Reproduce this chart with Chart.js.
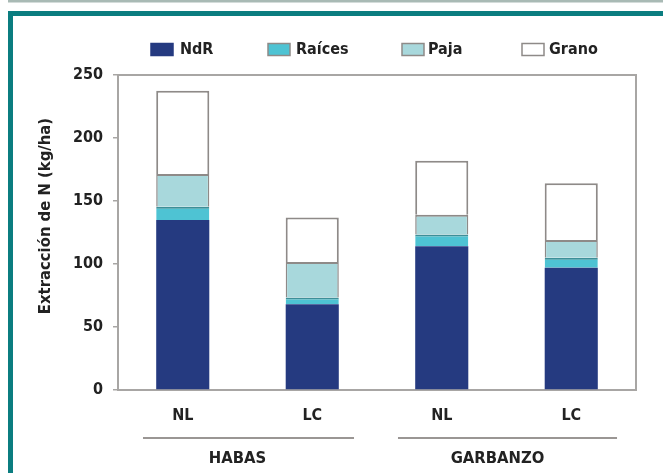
<!DOCTYPE html>
<html><head><meta charset="utf-8">
<script src="https://cdn.jsdelivr.net/npm/chart.js@4.4.0/dist/chart.umd.min.js"></script>
<style>html,body{margin:0;padding:0;background:#fff;}#wrap{width:663px;height:473px;position:relative;}</style>
</head><body><div id="wrap"><canvas id="c" width="663" height="473"></canvas></div>
<script>
const categories = ['NL', 'LC', 'NL', 'LC'];
const groups = ['HABAS', 'GARBANZO'];
const seriesNames = ['NdR', 'Raíces', 'Paja', 'Grano'];
const ndr = [135, 68, 114, 97];
const raices = [10.5, 5.5, 9.5, 8];
const paja = [26, 28, 15.5, 14];
const grano = [66, 35.5, 43, 45];
const yTicks = [0, 50, 100, 150, 200, 250];
const yTitle = 'Extracción de N (kg/ha)';

const FONT = "'Liberation Sans Narrow', 'DejaVu Sans Condensed', 'Roboto Condensed', 'Arial Narrow', sans-serif";
const TXT = '#222222';
const GRAY = '#8e8a88';
const AXIS = '#a8a6a4';

// legend layout (box left, text left)
const legendPos = [[151, 180], [268, 296], [402, 428], [522, 549]];
// group underline extents (fraction of half-category to the left/right) and label offset
const groupLine = [[0.614, 0.645, -11], [0.676, 0.707, -10]];

const framePlugin = {
  id: 'frame',
  beforeDraw(chart) {
    const ctx = chart.ctx;
    ctx.save();
    ctx.fillStyle = '#ffffff';
    ctx.fillRect(0, 0, chart.width, chart.height);
    ctx.fillStyle = '#a9bab5';
    ctx.fillRect(8, 0, chart.width - 8, 2.5);
    ctx.fillStyle = '#0b7d80';
    ctx.fillRect(8, 11, chart.width - 8, 5);
    ctx.fillRect(8, 11, 5, chart.height - 11);
    ctx.restore();
  },
  beforeDatasetsDraw(chart) {
    const a = chart.chartArea, ctx = chart.ctx;
    ctx.save();
    ctx.strokeStyle = AXIS;
    ctx.lineWidth = 2;
    ctx.strokeRect(a.left, a.top, a.right - a.left, a.bottom - a.top);
    ctx.restore();
  },
  afterDraw(chart) {
    const ctx = chart.ctx, x = chart.scales.x;
    ctx.save();
    // y axis title
    ctx.save();
    ctx.translate(46, 216);
    ctx.rotate(-Math.PI / 2);
    ctx.font = 'bold 16.5px ' + FONT;
    ctx.fillStyle = TXT;
    ctx.textAlign = 'center'; ctx.textBaseline = 'middle';
    ctx.fillText(yTitle, 0, 0);
    ctx.restore();
    // legend
    ctx.font = 'bold 16px ' + FONT;
    ctx.textAlign = 'left'; ctx.textBaseline = 'middle';
    chart.data.datasets.forEach((d, i) => {
      const [bx, tx] = legendPos[i];
      ctx.fillStyle = d.backgroundColor;
      ctx.fillRect(bx, 43.5, 22, 12);
      ctx.strokeStyle = i === 0 ? d.backgroundColor : GRAY;
      ctx.lineWidth = 1.5;
      ctx.strokeRect(bx, 43.5, 22, 12);
      ctx.fillStyle = TXT;
      ctx.fillText(d.label, tx, 50);
    });
    // group labels
    const half = (x.getPixelForValue(1) - x.getPixelForValue(0)) / 2;
    groups.forEach((g, i) => {
      const [fl, fr, off] = groupLine[i];
      const l = x.getPixelForValue(i * 2) - half * fl;
      const r = x.getPixelForValue(i * 2 + 1) + half * fr;
      ctx.strokeStyle = '#9a9694';
      ctx.lineWidth = 2;
      ctx.beginPath(); ctx.moveTo(l, 438); ctx.lineTo(r, 438); ctx.stroke();
      ctx.fillStyle = TXT;
      ctx.font = 'bold 16.5px ' + FONT;
      ctx.textAlign = 'center'; ctx.textBaseline = 'middle';
      ctx.fillText(g, (l + r) / 2 + off, 459);
    });
    ctx.restore();
  }
};

new Chart(document.getElementById('c'), {
  type: 'bar',
  data: {
    labels: categories,
    datasets: [
      { label: seriesNames[0], data: ndr, backgroundColor: '#253a80', borderWidth: 0 },
      { label: seriesNames[1], data: raices, backgroundColor: '#4ec3d3', borderColor: '#3d8f98', borderWidth: {top: 2, left: 0, right: 0, bottom: 0}, borderSkipped: false },
      { label: seriesNames[2], data: paja, backgroundColor: '#a8d8dc', borderColor: GRAY, borderWidth: {top: 2, left: 1.5, right: 1.5, bottom: 0}, borderSkipped: false },
      { label: seriesNames[3], data: grano, backgroundColor: '#ffffff', borderColor: GRAY, borderWidth: {top: 2, left: 2, right: 2, bottom: 0}, borderSkipped: false }
    ]
  },
  options: {
    responsive: false,
    animation: false,
    layout: { padding: { top: 75, right: 27, left: 37, bottom: 0 } },
    datasets: { bar: { barPercentage: 0.41, categoryPercentage: 1 } },
    plugins: {
      tooltip: { enabled: false },
      legend: { display: false }
    },
    scales: {
      x: {
        stacked: true,
        grid: { display: false },
        border: { display: true, color: AXIS, width: 2 },
        ticks: { font: { family: FONT, size: 16, weight: 'bold' }, color: TXT, padding: 8 },
        afterFit(s) { s.height = 83; }
      },
      y: {
        stacked: true,
        min: 0, max: 250,
        afterBuildTicks(s) { s.ticks = yTicks.map(v => ({ value: v })); },
        grid: { drawOnChartArea: false, drawTicks: true, tickLength: 5, color: AXIS, lineWidth: 1.5 },
        border: { display: true, color: AXIS, width: 2 },
        ticks: { font: { family: FONT, size: 16, weight: 'bold' }, color: TXT, padding: 10 },
        title: { display: false },
        afterFit(s) { s.width = 81; }
      }
    }
  },
  plugins: [framePlugin]
});
</script></body></html>
